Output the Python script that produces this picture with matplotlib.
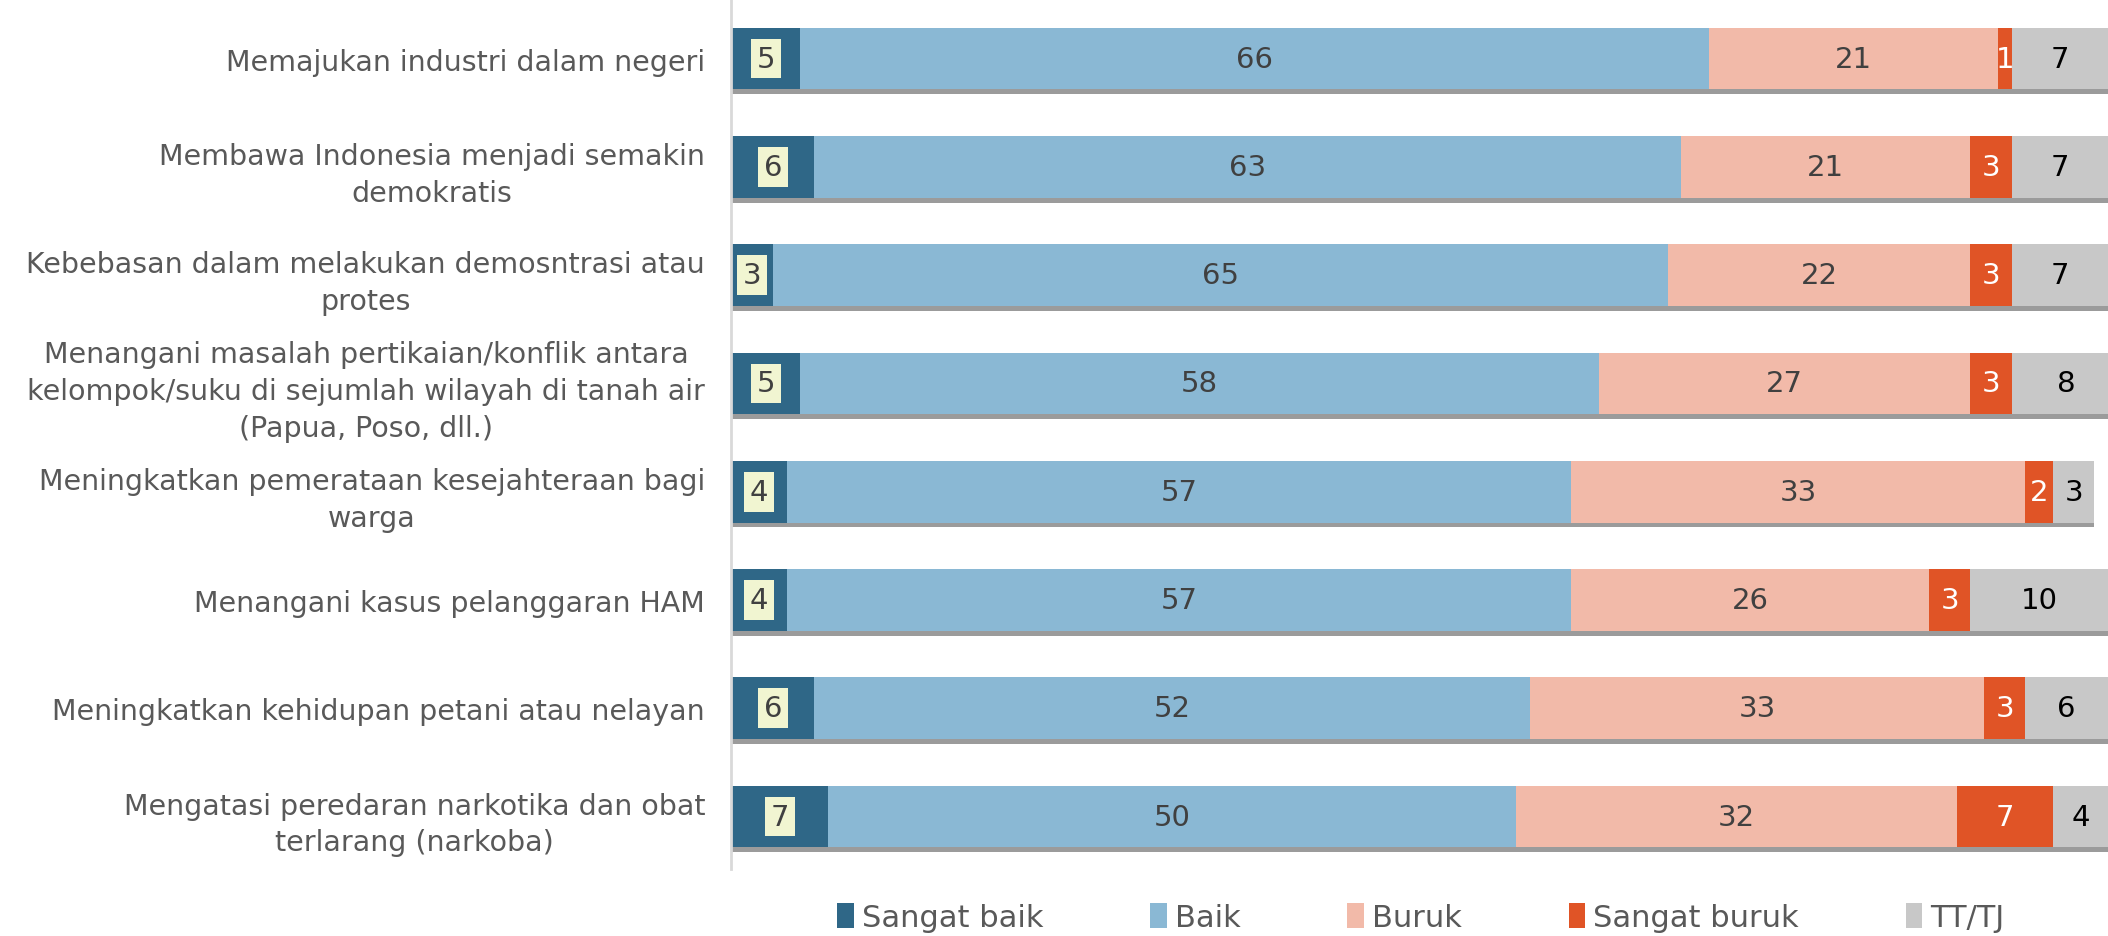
import numpy as np
import matplotlib
matplotlib.use("Agg")
import matplotlib.pyplot as plt
import matplotlib.patheffects as pe

# survey items, top to bottom
items = [
    "Memajukan industri dalam negeri",
    "Membawa Indonesia menjadi semakin\ndemokratis",
    "Kebebasan dalam melakukan demosntrasi atau\nprotes",
    "Menangani masalah pertikaian/konflik antara\nkelompok/suku di sejumlah wilayah di tanah air\n(Papua, Poso, dll.)",
    "Meningkatkan pemerataan kesejahteraan bagi\nwarga",
    "Menangani kasus pelanggaran HAM",
    "Meningkatkan kehidupan petani atau nelayan",
    "Mengatasi peredaran narkotika dan obat\nterlarang (narkoba)",
]

sangat_baik = [5, 6, 3, 5, 4, 4, 6, 7]
baik = [66, 63, 65, 58, 57, 57, 52, 50]
buruk = [21, 21, 22, 27, 33, 26, 33, 32]
sangat_buruk = [1, 3, 3, 3, 2, 3, 3, 7]
tt_tj = [7, 7, 7, 8, 3, 10, 6, 4]

series_names = ["Sangat baik", "Baik", "Buruk", "Sangat buruk", "TT/TJ"]
series_vals = [sangat_baik, baik, buruk, sangat_buruk, tt_tj]
colors = ["#2F6787", "#8AB8D4", "#F2BAA9", "#E05426", "#C8C8C8"]
label_colors = ["#404040", "#404040", "#404040", "white", "black"]

plt.rcParams['font.family'] = ['DejaVu Sans']

fig = plt.figure(figsize=(21.08, 9.37), dpi=100)
ax = fig.add_axes([0.347, 0.072, 0.653, 0.928])

y = np.arange(len(items))
left = np.zeros(len(items))
shadow = [pe.SimplePatchShadow(offset=(0, -3.5), shadow_rgbFace="#666666", alpha=0.65), pe.Normal()]
for i, (name, vals) in enumerate(zip(series_names, series_vals)):
    vals = np.array(vals, dtype=float)
    ax.barh(y, vals, left=left, height=0.57, color=colors[i], label=name,
            path_effects=shadow)
    for j, v in enumerate(vals):
        cx = left[j] + v / 2
        if i == 0:
            ax.text(cx, y[j], "%d" % v, ha="center", va="center", fontsize=21,
                    color=label_colors[i],
                    bbox=dict(boxstyle="square,pad=0.2", fc="#F1F5D1", ec="none"))
        else:
            ax.text(cx, y[j], "%d" % v, ha="center", va="center", fontsize=21,
                    color=label_colors[i])
    left += vals

ax.set_xlim(0, 100)
ax.set_ylim(7.48, -0.55)
ax.set_yticks(y)
ax.set_yticklabels(items, fontsize=20.5, color="#595959", multialignment="center",
                   linespacing=1.4)
ax.tick_params(axis="y", length=0, pad=19)
ax.set_xticks([])
for s in ["top", "right", "bottom"]:
    ax.spines[s].set_visible(False)
ax.spines["left"].set_color("#D9D9D9")
ax.spines["left"].set_linewidth(2)

leg = fig.legend(loc="center", bbox_to_anchor=(0.674, 0.02), ncol=5, frameon=False,
                 fontsize=22, labelcolor="#595959", handlelength=0.55, handleheight=0.9,
                 handletextpad=0.25, columnspacing=3.5)
for h in leg.legend_handles:
    h.set_path_effects([])

fig.savefig("out.png", dpi=100)
